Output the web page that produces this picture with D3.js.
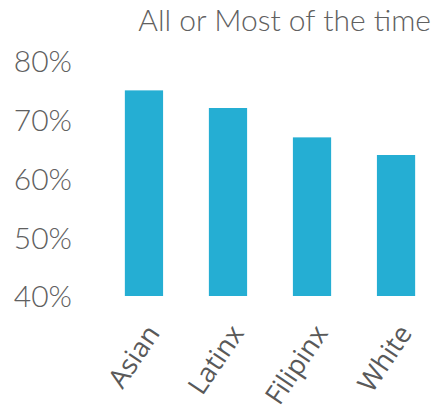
<!DOCTYPE html>
<html><head><meta charset="utf-8">
<script src="https://cdn.jsdelivr.net/npm/d3@7"></script>
<style>body{margin:0;background:#fff}</style>
</head><body>
<svg id="c" width="438" height="415"></svg>
<script>
const categories = ["Asian","Latinx","Filipinx","White"];
const values = [0.75, 0.72, 0.67, 0.64];
const tickValues = [0.4, 0.5, 0.6, 0.7, 0.8];
const title = "All or Most of the time";

const svg = d3.select("#c");
const x = d3.scaleBand().domain(categories).range([102, 438]).paddingInner(0.545).paddingOuter(0.272);
const y = d3.scaleLinear().domain([0.4, 0.8]).range([296, 61]);

svg.append("text").attr("x", 431).attr("y", 31).attr("text-anchor", "end")
  .attr("font-family", "Lato, 'Open Sans', sans-serif").attr("font-weight", 300)
  .attr("font-size", 30).attr("fill", "#606060").text(title);

svg.selectAll("rect.bar").data(categories).join("rect").attr("class","bar")
  .attr("x", d => x(d)).attr("width", x.bandwidth())
  .attr("y", (d,i) => y(values[i])).attr("height", (d,i) => y(0.4) - y(values[i]))
  .attr("fill", "#25AED3");

const yAxis = svg.append("g").attr("transform", "translate(72,0)")
  .call(d3.axisLeft(y).tickValues(tickValues).tickFormat(d3.format(".0%")).tickSize(0).tickPadding(0));
yAxis.select(".domain").remove();
yAxis.selectAll("text").attr("font-family", "Lato, 'Open Sans', sans-serif").attr("font-weight", 300)
  .attr("font-size", 30).attr("fill", "#606060").attr("dy", "0.36em");

const xAxis = svg.append("g").attr("transform", "translate(0,330)")
  .call(d3.axisBottom(x).tickSize(0).tickPadding(0));
xAxis.select(".domain").remove();
xAxis.selectAll("text").attr("font-family", "'Open Sans', sans-serif")
  .attr("font-size", 27).attr("fill", "#595959")
  .attr("text-anchor", "end").attr("dy", "0.35em")
  .attr("transform", "translate(9,-2) rotate(-56)");
</script>
</body></html>
